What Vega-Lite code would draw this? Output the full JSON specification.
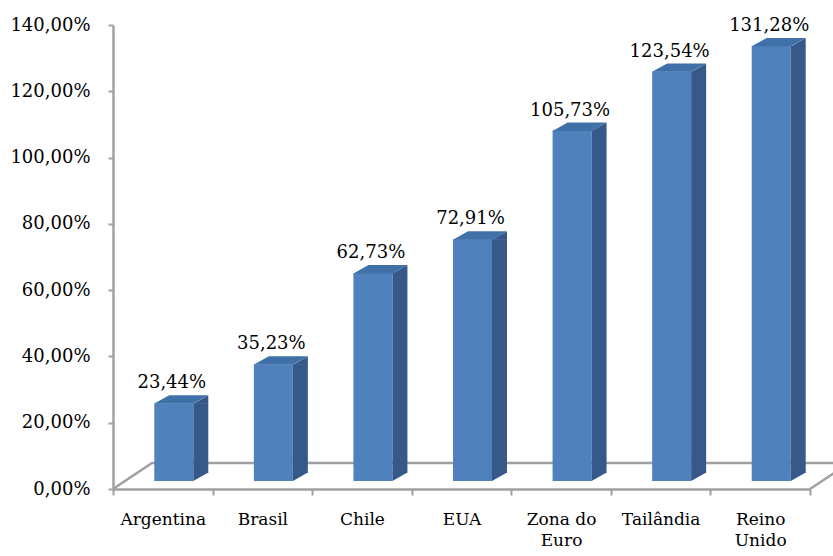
{
  "$schema": "https://vega.github.io/schema/vega-lite/v6.json",
  "width": 697,
  "height": 464,
  "autosize": {"type": "none"},
  "padding": {"left": 113, "top": 25, "right": 23, "bottom": 67},
  "background": "white",
  "config": {
    "locale": {"number": {"decimal": ",", "thousands": ".", "grouping": [3], "currency": ["", ""]}},
    "view": {"stroke": null},
    "font": "DejaVu Serif"
  },
  "data": {
    "values": [
      {"country": "Argentina", "value": 0.2344},
      {"country": "Brasil", "value": 0.3523},
      {"country": "Chile", "value": 0.6273},
      {"country": "EUA", "value": 0.7291},
      {"country": "Zona do Euro", "value": 1.0573},
      {"country": "Tailândia", "value": 1.2354},
      {"country": "Reino Unido", "value": 1.3128}
    ]
  },
  "encoding": {
    "x": {
      "field": "country", "type": "nominal", "sort": null,
      "scale": {"domain": ["Argentina", "Brasil", "Chile", "EUA", "Zona do Euro", "Tailândia", "Reino Unido"], "paddingInner": 0, "paddingOuter": 0},
      "axis": {
        "title": null, "labelAngle": 0, "tickBand": "extent",
        "domainColor": "#a0a0a0", "domainWidth": 2.5,
        "tickColor": "#a0a0a0", "tickWidth": 2, "tickSize": 6,
        "labelFont": "DejaVu Serif", "labelFontSize": 17, "labelColor": "#000000",
        "labelPadding": 16, "labelLineHeight": 21, "labelBaseline": "top",
        "labelExpr": "datum.value == 'Zona do Euro' ? ['Zona do', 'Euro'] : datum.value == 'Reino Unido' ? ['Reino', 'Unido'] : datum.value"
      }
    },
    "y": {
      "field": "value", "type": "quantitative",
      "scale": {"domain": [0, 1.4], "nice": false},
      "axis": {
        "title": null, "format": ".2%", "values": [0, 0.2, 0.4, 0.6, 0.8, 1.0, 1.2, 1.4],
        "grid": false, "domainColor": "#a0a0a0", "domainWidth": 2.5,
        "tickColor": "#a0a0a0", "tickWidth": 2, "tickSize": 5,
        "labelFont": "DejaVu Serif", "labelFontSize": 18, "labelColor": "#000000",
        "labelPadding": 18
      }
    }
  },
  "layer": [
    {
      "transform": [{"filter": "datum.country == 'Argentina'"}],
      "mark": {"type": "point", "shape": "M-49.8,0L-10.8,-26L700,-26", "size": 4, "filled": false, "stroke": "#a0a0a0", "strokeWidth": 2.5, "opacity": 1},
      "encoding": {"y": {"datum": 0}}
    },
    {
      "transform": [{"filter": "datum.country == 'Reino Unido'"}],
      "mark": {"type": "point", "shape": "M49.8,0L88.8,-26", "size": 4, "filled": false, "stroke": "#a0a0a0", "strokeWidth": 2.5, "opacity": 1},
      "encoding": {"y": {"datum": 0}}
    },
    {
      "mark": {"type": "bar", "width": 39, "xOffset": 11, "yOffset": -8, "y2Offset": -8, "color": "#4f81bd"},
      "encoding": {"y2": {"datum": 0}}
    },
    {
      "mark": {"type": "bar", "width": 15, "xOffset": 38, "yOffset": -8, "y2Offset": -16, "color": "#36598a"},
      "encoding": {"y2": {"datum": 0}}
    },
    {
      "mark": {"type": "point", "shape": "M30.5,-16.5L45.5,-16.5L30.5,-8Z", "size": 4, "filled": true, "color": "#36598a", "strokeWidth": 0, "opacity": 1},
      "encoding": {"y": {"datum": 0}}
    },
    {
      "mark": {"type": "point", "shape": "M-8.5,0.3L30.5,0.3L45.5,-8L6.5,-8Z", "size": 4, "filled": true, "color": "#4070a8", "strokeWidth": 0, "opacity": 1, "yOffset": -8}
    },
    {
      "mark": {"type": "point", "shape": "M30.5,0.5L45.5,-8L45.5,0.5Z", "size": 4, "filled": true, "color": "#36598a", "strokeWidth": 0, "opacity": 1, "yOffset": -8}
    },
    {
      "mark": {"type": "text", "font": "DejaVu Serif", "fontSize": 18, "baseline": "alphabetic", "align": "center", "dx": 9, "dy": -23, "color": "#000000"},
      "encoding": {"text": {"field": "value", "type": "quantitative", "format": ".2%"}}
    }
  ]
}
